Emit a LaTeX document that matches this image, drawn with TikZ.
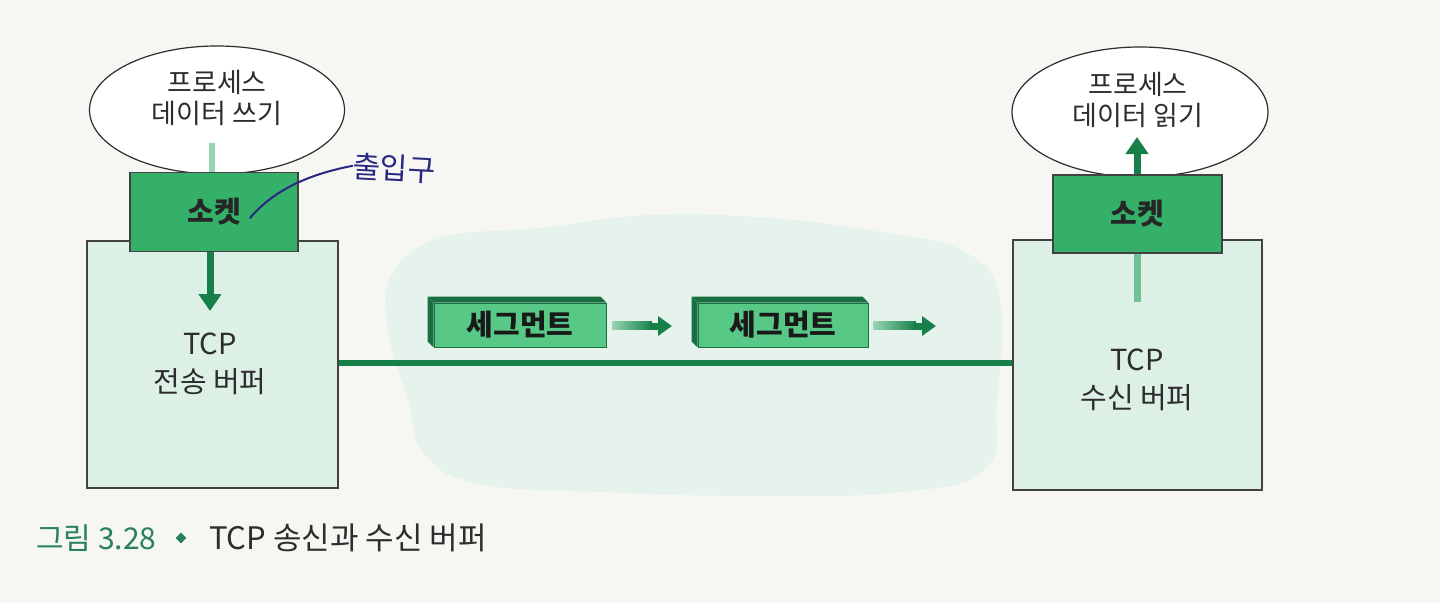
\documentclass[tikz,border=0pt]{standalone}
\usepackage{fontspec}
\setmainfont{Noto Sans CJK KR}
\usetikzlibrary{arrows.meta,shapes.geometric,calc}
\definecolor{bg}{RGB}{246,246,243}
\definecolor{sockg}{RGB}{52,176,104}
\definecolor{buf}{RGB}{220,240,230}
\definecolor{blobc}{RGB}{230,243,236}
\definecolor{lineg}{RGB}{22,128,72}
\definecolor{segf}{RGB}{88,200,134}
\definecolor{segd}{RGB}{24,112,64}
\definecolor{paleg}{RGB}{150,212,178}
\definecolor{midg}{RGB}{110,195,150}
\definecolor{capg}{RGB}{40,128,92}
\definecolor{inkc}{RGB}{40,40,130}
\definecolor{txt}{RGB}{45,45,45}
\tikzset{
  procell/.style={ellipse, draw=txt, line width=1.2pt, fill=white, inner sep=0pt},
  ptext/.style={align=center, text=txt, font=\fontsize{27}{31}\selectfont, inner sep=0pt},
  sockbox/.style={rectangle, draw=txt!90, line width=1.8pt, fill=sockg, inner sep=0pt,
     font=\bfseries\fontsize{29}{30}\selectfont, text=black!85},
  bufbox/.style={rectangle, draw=txt!90, line width=1.6pt, fill=buf, inner sep=0pt},
  btext/.style={align=center, text=txt, font=\fontsize{29}{38}\selectfont, inner sep=0pt},
  segbox/.style={rectangle, fill=segf, draw=segd, line width=0.8pt, inner sep=0pt,
     minimum height=44pt, font=\bfseries\fontsize{29}{30}\selectfont, text=black!90},
  flow/.style={draw=lineg, line width=7pt, -{Triangle[width=22pt,length=17pt]}},
  segarrow/.style={draw=lineg, line width=7pt, -{Triangle[width=19pt,length=14pt]}},
  wire/.style={draw=lineg, line width=6pt},
}
\begin{document}
\begin{tikzpicture}[x=1pt,y=-1pt]
\fill[bg] (0,0) rectangle (1440,603);
\useasboundingbox (0,0) rectangle (1440,603);
% background blob
\fill[blobc] plot[smooth cycle, tension=0.7] coordinates {
 (392,275) (440,238) (540,228) (650,215) (770,218) (880,232) (965,252)
 (1000,300) (997,400) (985,470) (900,492) (760,496) (600,492) (480,484)
 (425,455) (408,400) (388,330)};
% processes
\node[procell, minimum width=255pt, minimum height=128pt] (p1) at (217,110) {};
\node[ptext] (p1t) at (217,98) {프로세스\\데이터 쓰기};
\node[procell, minimum width=256pt, minimum height=130pt] (p2) at (1140,112) {};
\node[ptext] (p2t) at (1138,100) {프로세스\\데이터 읽기};
% buffers
\node[bufbox, minimum width=251pt, minimum height=247pt] (b1) at (212.5,364.5) {};
\node[btext] (b1t) at (210,364) {TCP\\전송 버퍼};
\node[bufbox, minimum width=249pt, minimum height=250pt] (b2) at (1137.5,365) {};
\node[btext] (b2t) at (1137,380) {TCP\\수신 버퍼};
% connecting wire
\draw[wire] (b1.east |- 0,363) -- (b2.west |- 0,363);
% faint and lower lines behind sockets
\coordinate (f1) at (212,143);
\coordinate (r0) at (1137,302);
\coordinate (r1) at (1137,137);
\draw[draw=paleg, line width=6pt] (f1) -- (212,180);
\draw[draw=midg, line width=7pt] (r0) -- (1137,240);
% sockets
\node[sockbox, minimum width=168pt, minimum height=79pt] (s1) at (214,212) {소켓};
\node[sockbox, minimum width=169pt, minimum height=78pt] (s2) at (1137.5,214) {소켓};
% socket arrows
\coordinate (c1) at (210,311);
\draw[flow] (s1.south -| c1) -- (c1);
\draw[flow] (s2.north -| r1) -- (r1);
% segments (3D boxes)
\node[segbox, minimum width=172pt] (g1) at (520,325) {세그먼트};
\node[segbox, minimum width=170pt] (g2) at (783,325) {세그먼트};
\foreach \g in {g1,g2}{
  \fill[segd] (\g.north west) -- (\g.north east) -- ($(\g.north east)+(-6,-6)$) -- ($(\g.north west)+(-6,-6)$) -- cycle;
  \fill[segd] (\g.north west) -- (\g.south west) -- ($(\g.south west)+(-6,-6)$) -- ($(\g.north west)+(-6,-6)$) -- cycle;
}
\coordinate (a1) at (672,326);
\coordinate (a2) at (936,326);
\shade[left color=paleg, right color=lineg] ($(g1.east)+(6,-3.5)$) rectangle ($(a1)+(-20,3.5)$);
\draw[segarrow] ($(a1)+(-22,0)$) -- (a1);
\shade[left color=paleg, right color=lineg] ($(g2.east)+(5,-3.5)$) rectangle ($(a2)+(-20,3.5)$);
\draw[segarrow] ($(a2)+(-22,0)$) -- (a2);
% handwritten annotation
\node[text=inkc, font=\fontsize{30}{32}\selectfont, inner sep=0pt, rotate=-3] (ann) at (394,168) {출입구};
\coordinate (h0) at (250,218);
\draw[inkc, line width=2pt, line cap=round] (h0) .. controls (272,192) and (305,175) .. (ann.west);
% caption
\node[anchor=west, text=capg, font=\fontsize{30}{32}\selectfont, inner sep=0pt] (cap1) at (36,538) {그림 3.28};
\node[diamond, fill=capg, inner sep=0pt, minimum size=11pt] (dia) at (181,538) {};
\node[anchor=west, text=txt, font=\fontsize{31}{32}\selectfont, inner sep=0pt] (cap2) at (209,538) {TCP 송신과 수신 버퍼};
\end{tikzpicture}
\end{document}
